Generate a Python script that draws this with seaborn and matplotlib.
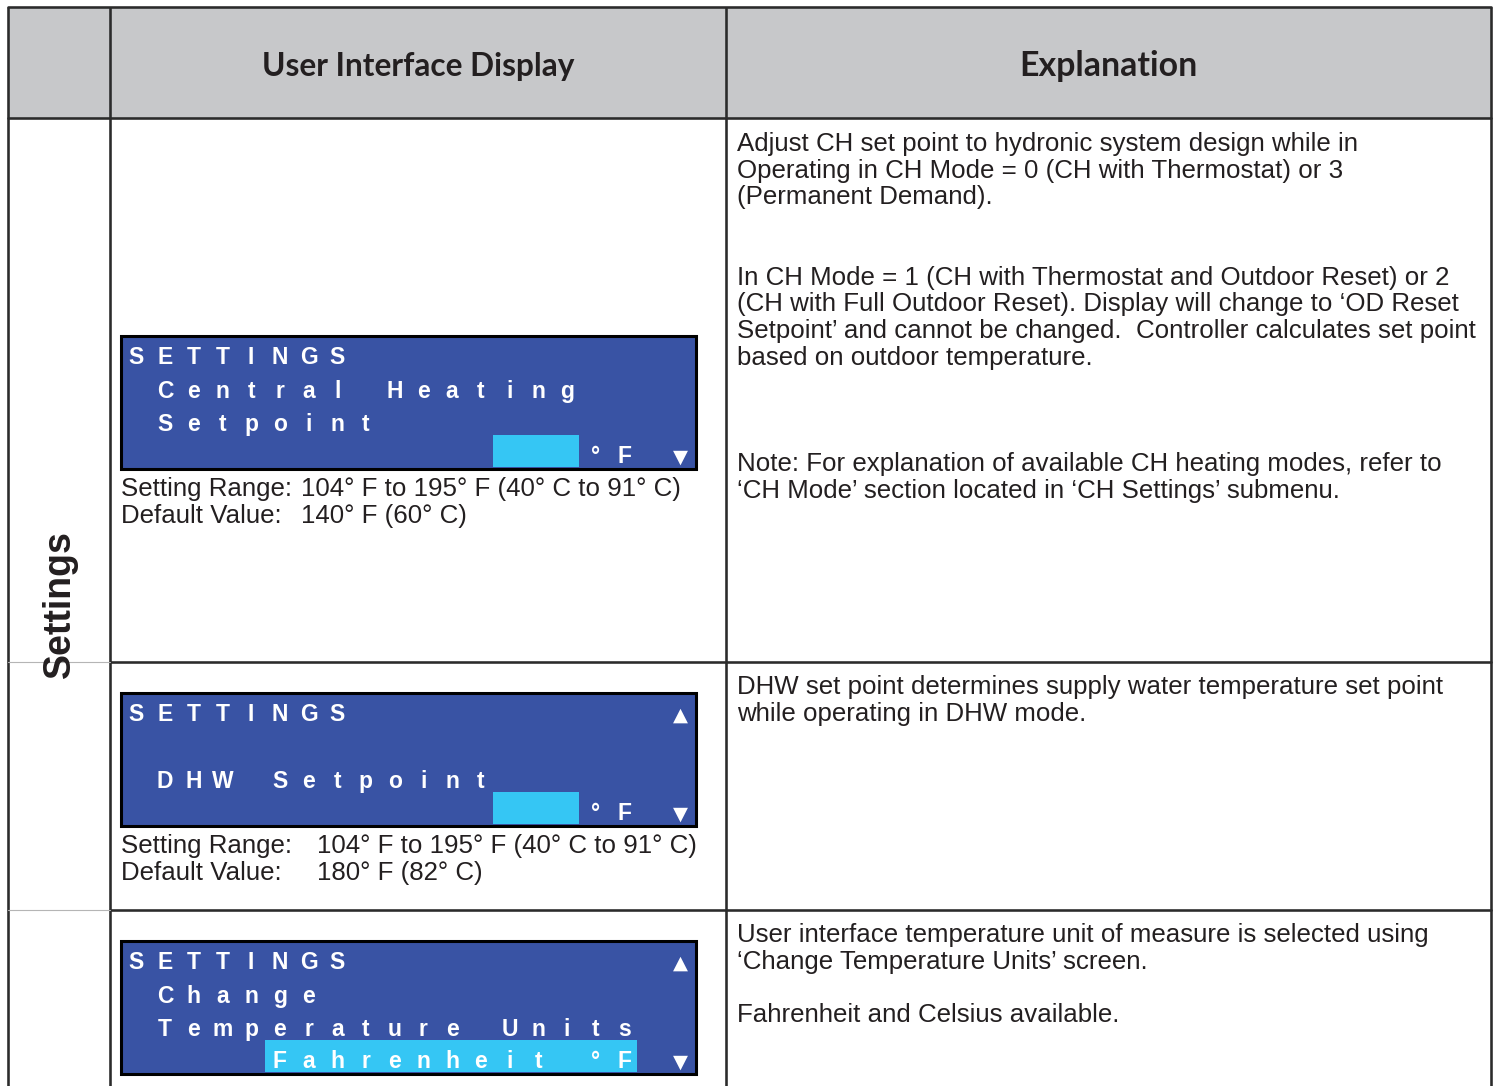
import matplotlib
matplotlib.use("Agg")
import matplotlib.pyplot as plt
from matplotlib import font_manager
from matplotlib.patches import Rectangle
import seaborn as sns

# ---- table content ----
headers = ["User Interface Display", "Explanation"]
section = "Settings"

lcd_screens = [
    ["SETTINGS", " Central Heating", " Setpoint", "                °F ▼"],
    ["SETTINGS           ▲", "", " DHW Setpoint", "                °F ▼"],
    ["SETTINGS           ▲", " Change", " Temperature Units", "     Fahrenheit °F ▼"],
]
range_labels = ["Setting Range:", "Default Value:"]
range_values = [
    ["104° F to 195° F (40° C to 91° C)", "140° F (60° C)"],
    ["104° F to 195° F (40° C to 91° C)", "180° F (82° C)"],
    [],
]
explanations = [
    ["Adjust CH set point to hydronic system design while in",
     "Operating in CH Mode = 0 (CH with Thermostat) or 3",
     "(Permanent Demand).",
     "",
     "",
     "In CH Mode = 1 (CH with Thermostat and Outdoor Reset) or 2",
     "(CH with Full Outdoor Reset). Display will change to \u2018OD Reset",
     "Setpoint\u2019 and cannot be changed.  Controller calculates set point",
     "based on outdoor temperature.",
     "",
     "",
     "",
     "Note: For explanation of available CH heating modes, refer to",
     "\u2018CH Mode\u2019 section located in \u2018CH Settings\u2019 submenu."],
    ["DHW set point determines supply water temperature set point",
     "while operating in DHW mode."],
    ["User interface temperature unit of measure is selected using",
     "\u2018Change Temperature Units\u2019 screen.",
     "",
     "Fahrenheit and Celsius available."],
]

# ---- layout (pixels) ----
W, H = 1499, 1086
x_left, x_col1, x_col2, x_right = 8, 110, 726, 1491
y_top, y_head = 7, 118
row_tops = [118, 662, 910]
lcd_tops = [336, 693, 941]
lcd_x0, lcd_x1, lcd_h = 121, 696, 133
cell0, pitch = 122, 28.7
row_base = [28, 62, 95, 127]
highlights = [(493, 579), (493, 579), (265, 637)]
range_base = [496, 853]
range_value_x = [301, 317]
expl_base = [151, 694, 942]
line_h = 26.7
head_widths = [313, 178]

ink = "#231f20"
lcd_blue = "#3953a4"
lcd_cyan = "#35c6f4"
rule = "#2b2b2b"

sns.set_style("white")
names = {f.name for f in font_manager.fontManager.ttflist}
body_font = "Liberation Sans Narrow" if "Liberation Sans Narrow" in names else "Liberation Sans"
plt.rcParams["font.family"] = [body_font, "DejaVu Sans"]

fig = plt.figure(figsize=(W / 100, H / 100), dpi=100)
ax = fig.add_axes([0, 0, 1, 1])
ax.set_xlim(0, W)
ax.set_ylim(H, 0)
ax.axis("off")

lw = 2.6 * 0.72
ax.add_patch(Rectangle((x_left, y_top), x_right - x_left, y_head - y_top,
                       facecolor="#c7c8ca", edgecolor="none", zorder=0))
for x in [x_left, x_col1, x_col2, x_right]:
    ax.plot([x, x], [y_top, H], color=rule, lw=lw, solid_capstyle="butt")
ax.plot([x_left, x_right], [y_top, y_top], color=rule, lw=lw)
ax.plot([x_left, x_right], [y_head, y_head], color=rule, lw=lw)
for y in row_tops[1:]:
    ax.plot([x_col1, x_right], [y, y], color=rule, lw=lw)
    ax.plot([x_left, x_col1], [y, y], color="#b5b5b5", lw=0.8)

# headers
head_txt = []
for label, (a, b) in zip(headers, [(x_col1, x_col2), (x_col2, x_right)]):
    head_txt.append(ax.text((a + b) / 2, 76, label, ha="center", va="baseline",
                            fontsize=21, fontweight="bold", color=ink,
                            family=["Lato", "DejaVu Sans"]))
ax.text(60, 604, section, rotation=90, ha="center", va="center", fontsize=27,
        fontweight="bold", color=ink, family=["Liberation Sans", "DejaVu Sans"])

# LCD screens
for top, rows, (h0, h1) in zip(lcd_tops, lcd_screens, highlights):
    ax.add_patch(Rectangle((lcd_x0, top), lcd_x1 - lcd_x0, lcd_h, facecolor=lcd_blue,
                           edgecolor="black", lw=2.2, zorder=1))
    ax.add_patch(Rectangle((h0, top + lcd_h - 34), h1 - h0, 32, facecolor=lcd_cyan,
                           edgecolor="none", zorder=2))
    for r, line in enumerate(rows):
        for c, ch in enumerate(line):
            if ch == " ":
                continue
            x = cell0 + (c + 0.5) * pitch
            if ch in "▲▼":
                ax.text(x - 1, top + row_base[r], ch, ha="center", va="baseline",
                        color="white", fontsize=14, family="DejaVu Sans", zorder=3)
            else:
                ax.text(x, top + row_base[r], ch, ha="center", va="baseline",
                        color="white", fontsize=16.5, fontweight="bold",
                        family=["Liberation Sans", "DejaVu Sans"], zorder=3)

# body text
body = []
for base, vx, vals in zip(range_base, range_value_x, range_values):
    for i, val in enumerate(vals):
        body.append(ax.text(lcd_x0, base + i * 27, range_labels[i], ha="left",
                            va="baseline", fontsize=19, color=ink))
        body.append(ax.text(vx, base + i * 27, val, ha="left", va="baseline",
                            fontsize=19, color=ink))
first = None
for base, lines in zip(expl_base, explanations):
    for i, line in enumerate(lines):
        t = ax.text(737, base + i * line_h, line, ha="left", va="baseline",
                    fontsize=19, color=ink)
        body.append(t)
        if first is None:
            first = t

# fit font sizes to the reference widths
fig.canvas.draw()
r = fig.canvas.get_renderer()
k = 623 / first.get_window_extent(r).width
for t in body:
    t.set_fontsize(19 * k)
for t, wd in zip(head_txt, head_widths):
    t.set_fontsize(21 * wd / t.get_window_extent(r).width)

fig.savefig("out.png", dpi=100)
